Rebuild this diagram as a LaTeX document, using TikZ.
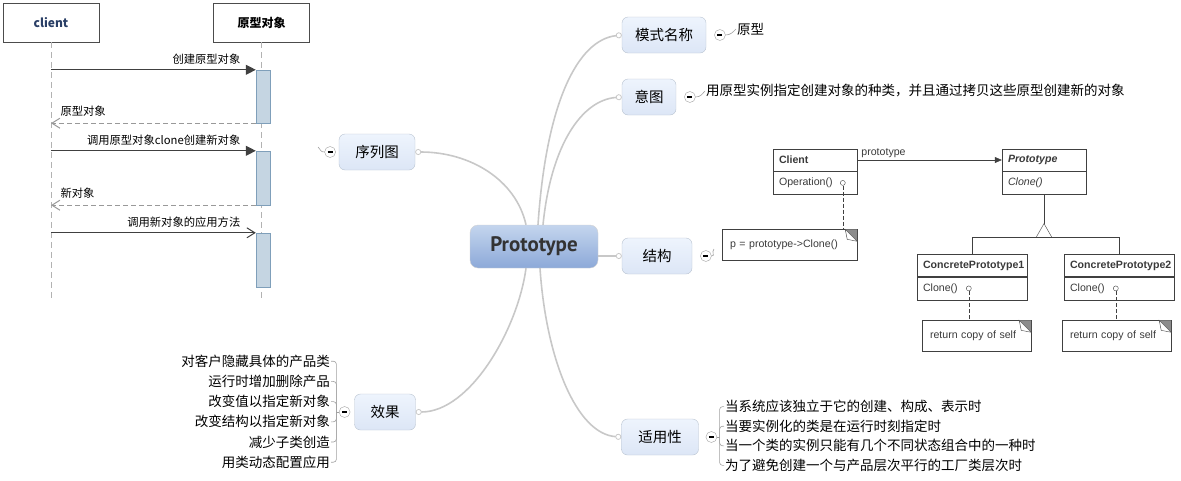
\documentclass[tikz,border=0pt]{standalone}
\usepackage{fontspec}
\setmainfont{Liberation Sans}
\newfontfamily\cjk{Noto Sans CJK SC}
\newfontfamily\hubfont{PT Sans}
\usetikzlibrary{arrows.meta,positioning,calc}

\definecolor{branchgray}{HTML}{C8C8C8}
\definecolor{twiggray}{HTML}{A0A0A0}
\definecolor{actfill}{HTML}{C5D5E2}
\definecolor{actline}{HTML}{7F9FBA}
\definecolor{topicline}{HTML}{B9C3D0}
\definecolor{topictop}{HTML}{EEF4FD}
\definecolor{topicbot}{HTML}{DCE6F6}
\definecolor{hubtop}{HTML}{C4D5EE}
\definecolor{hubbot}{HTML}{8CA9D8}
\definecolor{clientblue}{HTML}{2A3F66}
\definecolor{umltext}{HTML}{3A3A3A}

\begin{document}
\begin{tikzpicture}[x=1pt,y=-1pt,>=Latex]
  \tikzstyle{lifebox}=[draw=black!70,fill=white,minimum width=96pt,minimum height=39pt,font=\cjk\bfseries\fontsize{12}{14}\selectfont]
  \tikzstyle{lifeline}=[draw=gray!60,dash pattern=on 6pt off 4pt]
  \tikzstyle{actbar}=[draw=actline,fill=actfill,minimum width=14pt,inner sep=0pt]
  \tikzstyle{call}=[draw=black!75,line width=1pt,-{Triangle[length=10pt,width=10pt]}]
  \tikzstyle{reply}=[draw=gray!80,line width=1pt,dash pattern=on 5pt off 3pt,-{Straight Barb[length=8pt,width=10pt]}]
  \tikzstyle{msgtext}=[font=\cjk\fontsize{11.3}{13}\selectfont,inner sep=1pt]
  \tikzstyle{hub}=[draw=gray!35,rounded corners=8pt,top color=hubtop,bottom color=hubbot,minimum width=128pt,minimum height=43pt,text=black!80,font=\hubfont\bfseries\fontsize{21}{24}\selectfont]
  \tikzstyle{topic}=[draw=topicline,rounded corners=6pt,top color=topictop,bottom color=topicbot,minimum height=36pt,font=\cjk\fontsize{14.5}{16}\selectfont]
  \tikzstyle{branch}=[draw=branchgray,line width=1.6pt,-{Circle[open,length=6pt,width=6pt,line width=0.8pt]}]
  \tikzstyle{fold}=[circle,draw=twiggray,fill=white,minimum size=11pt,inner sep=0pt]
  \tikzstyle{twig}=[draw=twiggray,line width=0.6pt]
  \tikzstyle{leaf}=[font=\cjk\fontsize{13.5}{16}\selectfont,inner sep=1pt]
  \tikzstyle{umlhead}=[draw=black!75,minimum height=22pt,align=left,inner xsep=6pt,text=umltext,font=\bfseries\fontsize{10.6}{12}\selectfont]
  \tikzstyle{umlbody}=[draw=black!75,minimum height=23pt,align=left,inner xsep=6pt,text=umltext,font=\fontsize{10.6}{12}\selectfont]
  \tikzstyle{umlnote}=[draw=black!75,minimum height=31pt,align=left,inner xsep=8pt,text=umltext,font=\fontsize{10.6}{12}\selectfont]
  \tikzstyle{opdot}=[circle,draw=black!75,fill=white,minimum size=5pt,inner sep=0pt]
  \tikzstyle{notelink}=[draw=black!75,dash pattern=on 4pt off 2pt]

  \useasboundingbox (0,0) rectangle (1181,480);

  % sequence diagram
  \node[lifebox] (client) at (51,22.5) {\color{clientblue}client};
  \node[lifebox] (proto) at (261.5,22.5) {原型对象};
  \coordinate (clientend) at (51,298);
  \coordinate (protoend) at (proto.south |- clientend);
  \draw[lifeline] (client) -- (clientend);
  \draw[lifeline] (proto) -- (protoend);
  \node[actbar,minimum height=53pt] (act1) at (263,96.5) {};
  \node[actbar,minimum height=54pt] (act2) at (263,178) {};
  \node[actbar,minimum height=54pt] (act3) at (263,260) {};
  \draw[call] (client |- act1.north west) -- node[msgtext,pos=1,above left=4pt and 14pt] {创建原型对象} (act1.north west);
  \draw[reply] (act1.south west) -- node[msgtext,pos=1,above right=5pt and 8pt] {原型对象} (client |- act1.south west);
  \draw[call] (client |- act2.north west) -- node[msgtext,pos=1,above left=4pt and 14pt] {调用原型对象clone创建新对象} (act2.north west);
  \draw[reply] (act2.south west) -- node[msgtext,pos=1,above right=5pt and 8pt] {新对象} (client |- act2.south west);
  \draw[call,-{Straight Barb[length=8pt,width=10pt]}] (client |- act3.north west) -- node[msgtext,pos=1,above left=4pt and 14pt] {调用新对象的应用方法} (act3.north west);

  % mind map
  \node[hub] (hub) at (534,246.5) {Prototype};
  \node[topic,minimum width=76pt] (seq) at (377,152) {序列图};
  \node[topic,minimum width=84pt] (mode) at (664,35) {模式名称};
  \node[topic,minimum width=54pt] (intent) at (649,97) {意图};
  \node[topic,minimum width=70pt] (struct) at (657,256) {结构};
  \node[topic,minimum width=61pt] (effect) at (385,412) {效果};
  \node[topic,minimum width=77pt] (apply) at (660,437) {适用性};

  \draw[branch] ([xshift=-8pt]hub.north) .. controls +(-10,-45) and +(55,0) .. (seq.east);
  \draw[branch] ([xshift=4pt]hub.north) .. controls +(8,-120) and +(-45,5) .. (mode.west);
  \draw[branch] ([xshift=9pt]hub.north) .. controls +(8,-80) and +(-40,3) .. (intent.west);
  \draw[branch] (hub.east |- struct.west) -- (struct.west);
  \draw[branch] ([xshift=-8pt]hub.south) .. controls +(-8,60) and +(55,0) .. (effect.east);
  \draw[branch] ([xshift=6pt]hub.south) .. controls +(6,90) and +(-45,-3) .. (apply.west);

  \node[fold,left=3pt of seq] (seqfold) {\rule{5pt}{1.2pt}};
  \node[fold,right=8pt of mode] (modefold) {\rule{5pt}{1.2pt}};
  \node[fold,right=8pt of intent] (intentfold) {\rule{5pt}{1.2pt}};
  \node[fold,right=8pt of struct] (structfold) {\rule{5pt}{1.2pt}};
  \node[fold,left=4pt of effect] (effectfold) {\rule{5pt}{1.2pt}};
  \node[fold,right=7pt of apply] (applyfold) {\rule{5pt}{1.2pt}};

  \node[leaf,anchor=west] (modeleaf) at (736,29) {原型};
  \node[leaf,anchor=west] (intentleaf) at (705,91) {用原型实例指定创建对象的种类，并且通过拷贝这些原型创建新的对象};
  \coordinate (structleaf) at (714,249);
  \coordinate (seqleaf) at (318,147);
  \draw[twig] (modefold.east) .. controls +(5,0) and +(-3,3) .. (modeleaf.west);
  \draw[twig] (intentfold.east) .. controls +(5,0) and +(-3,3) .. (intentleaf.west);
  \draw[twig] (structfold.east) .. controls +(4,0) and +(-3,3) .. (structleaf);
  \draw[twig] (seqfold.west) .. controls +(-4,0) and +(3,3) .. (seqleaf);

  \foreach \t [count=\i] in {对客户隐藏具体的产品类,运行时增加删除产品,改变值以指定新对象,改变结构以指定新对象,减少子类创造\hspace{6pt},用类动态配置应用}
    \node[leaf,anchor=east] (eff\i) at (331,{341+20.2*\i}) {\t};
  \coordinate (effjoin) at ($(effectfold.west)+(-2.5,0)$);
  \draw[twig] (effectfold.west) -- (effjoin);
  \foreach \i in {1,...,6}
    \draw[twig,rounded corners=3pt] (effjoin) |- (eff\i.east);

  \foreach \t [count=\i] in {当系统应该独立于它的创建、构成、表示时,当要实例化的类是在运行时刻指定时,当一个类的实例只能有几个不同状态组合中的一种时,为了避免创建一个与产品层次平行的工厂类层次时}
    \node[leaf,anchor=west] (app\i) at (724,{387+19.6*\i}) {\t};
  \coordinate (appjoin) at ($(applyfold.east)+(2.5,0)$);
  \draw[twig] (applyfold.east) -- (appjoin);
  \foreach \i in {1,...,4}
    \draw[twig,rounded corners=3pt] (appjoin) |- (app\i.west);

  % class diagram
  \node[umlhead,text width=72pt] (clienthead) at (815,160) {Client};
  \node[umlbody,text width=72pt,below=0pt of clienthead] (clientbody) {Operation()};
  \node[umlhead,text width=72pt] (protohead) at (1044,160) {\itshape Prototype};
  \node[umlbody,text width=72pt,below=0pt of protohead] (protobody) {\itshape Clone()};
  \node[umlhead,text width=98pt] (conc1head) at (972,265.5) {ConcretePrototype1};
  \node[umlbody,text width=98pt,below=0pt of conc1head] (conc1body) {Clone()};
  \node[umlhead,text width=98pt] (conc2head) at (1119,265.5) {ConcretePrototype2};
  \node[umlbody,text width=98pt,below=0pt of conc2head] (conc2body) {Clone()};
  \node[umlnote,text width=119pt] (cnote) at (789.5,245) {p = prototype-{}>Clone()};
  \node[umlnote,text width=93pt] (note1) at (976.5,336) {return copy of self};
  \node[umlnote,text width=93pt] (note2) at (1116.5,336) {return copy of self};
  \foreach \n in {cnote,note1,note2} {
    \fill[black!45] ([xshift=-12pt]\n.north east) -- (\n.north east) -- ([yshift=-12pt]\n.north east) -- cycle;
    \draw[black!75,fill=white] ([xshift=-12pt]\n.north east) -- ([xshift=-10pt,yshift=-10pt]\n.north east) -- ([yshift=-12pt]\n.north east) -- cycle;
  }

  \draw[black!75,-{Triangle[length=7pt,width=6pt]}] (clienthead.east) -- node[pos=0,above right=1pt and 3pt,text=umltext,font=\fontsize{10.6}{12}\selectfont,inner sep=1pt] {prototype} (protohead.west);

  \coordinate (inhapex) at ($(protobody.south)+(0,29)$);
  \coordinate (inhbase) at ($(inhapex)+(0,14)$);
  \draw[black!75] (protobody.south) -- (inhapex);
  \draw[black!75,fill=white] (inhapex) -- ++(-8,14) -- ++(16,0) -- cycle;
  \draw[black!75] (conc1head.north) |- (inhbase) -| (conc2head.north);

  \node[opdot] (cdot) at ([xshift=70pt]clientbody.west) {};
  \node[opdot] (c1dot) at ([xshift=52pt]conc1body.west) {};
  \node[opdot] (c2dot) at ([xshift=52pt]conc2body.west) {};
  \draw[notelink] (cdot.south) -- (cdot.south |- cnote.north);
  \draw[notelink] (c1dot.south) -- (c1dot.south |- note1.north);
  \draw[notelink] (c2dot.south) -- (c2dot.south |- note2.north);
\end{tikzpicture}
\end{document}
